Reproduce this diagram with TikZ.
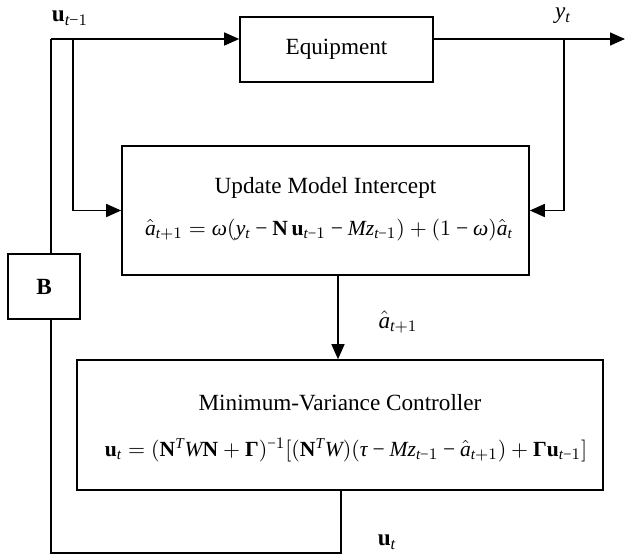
\documentclass[tikz,border=0pt]{standalone}
\usepackage{fontspec}
\setmainfont{Liberation Serif}
\usetikzlibrary{arrows.meta}
% Times-like letters in math
\edef\tmsfam{\rmdefault}
\begingroup\edef\x{\endgroup
  \noexpand\DeclareSymbolFont{tmsit}{TU}{\tmsfam}{m}{it}%
  \noexpand\DeclareSymbolFont{tmsrm}{TU}{\tmsfam}{m}{n}%
  \noexpand\DeclareSymbolFont{tmsbf}{TU}{\tmsfam}{b}{n}}\x
\count255=65
\loop \Umathcode\count255=7 \symtmsit\count255 \advance\count255 1 \ifnum\count255<91 \repeat
\count255=97
\loop \Umathcode\count255=7 \symtmsit\count255 \advance\count255 1 \ifnum\count255<123 \repeat
\count255=48
\loop \Umathcode\count255=7 \symtmsrm\count255 \advance\count255 1 \ifnum\count255<58 \repeat
\Umathcode`==3 \symtmsrm`=
\Umathcode`+=2 \symtmsrm`+
\Umathcode`-=2 \symtmsrm"2212
\Umathcode`(=4 \symtmsrm`(
\Umathcode`)=5 \symtmsrm`)
\Umathcode`[=4 \symtmsrm`[
\Umathcode`]=5 \symtmsrm`]
\Umathchardef\omega=0 \symtmsit"03C9
\Umathchardef\tau=0 \symtmsit"03C4
\Umathchardef\bGamma=0 \symtmsbf"0393

\begin{document}
\begin{tikzpicture}[x=0.5pt, y=-0.5pt,
    font=\fontsize{11.6pt}{14pt}\selectfont,
    >={Triangle[length=7.5pt, width=6.5pt]},
    wire/.style={line width=0.75pt},
    block/.style={draw, line width=0.8pt, inner sep=0pt},
    eqn/.style={font=\fontsize{10.8pt}{13pt}\selectfont}]
    \useasboundingbox (0,0) rectangle (627,558);

    % Blocks
    \node[block, minimum width=96.5pt, minimum height=32.5pt] (equip) at (336.5,49.5) {Equipment};
    \node[block, minimum width=203.5pt, minimum height=64.5pt] (update) at (325.5,210.5) {};
    \node (updtitle) at (325.5,188) {Update Model Intercept};
    \node[eqn] (updeq) at (329,230) {$\hat{a}_{t+1} = \omega(y_t - \mathbf{N}\,\mathbf{u}_{t-1} - Mz_{t-1}) + (1-\omega)\hat{a}_t$};
    \node[block, minimum width=263pt, minimum height=65pt] (ctrl) at (340,425) {};
    \node (ctrltitle) at (340,403) {Minimum-Variance Controller};
    \node[eqn] (ctrleq) at (346,450) {$\mathbf{u}_t = (\mathbf{N}^T W\mathbf{N} + \bGamma)^{-1}[(\mathbf{N}^T W)(\tau - Mz_{t-1} - \hat{a}_{t+1}) + \bGamma\mathbf{u}_{t-1}]$};
    \node[block, minimum width=36pt, minimum height=32.5pt] (bbox) at (44,286.5) {$\mathbf{B}$};

    % Junction points
    \coordinate (corner) at (51,39);
    \coordinate (split) at (73,39);
    \coordinate (tap) at (564,39);
    \coordinate (out) at (625,39);
    \coordinate (botR) at (341,553);
    \coordinate (botL) at (51,553);

    % Signals
    \draw[wire, ->] (corner) -- (equip.west |- corner);
    \draw[wire, ->] (equip.east |- out) -- (out);
    \draw[wire, ->] (split) |- (update.west);
    \draw[wire, ->] (tap) |- (update.east);
    \draw[wire, ->] (update.south -| 338,0) -- (ctrl.north -| 338,0);
    \draw[wire] (ctrl.south -| botR) -- (botR) -- (botL) -- (bbox.south -| botL);
    \draw[wire] (bbox.north -| corner) -- (corner);

    % Labels
    \node (lblu1) at (70,18) {$\mathbf{u}_{t-1}$};
    \node (lbly) at (563,16) {$y_t$};
    \node (lbla) at (398,322) {$\hat{a}_{t+1}$};
    \node (lblu) at (387,542) {$\mathbf{u}_t$};
\end{tikzpicture}
\end{document}
